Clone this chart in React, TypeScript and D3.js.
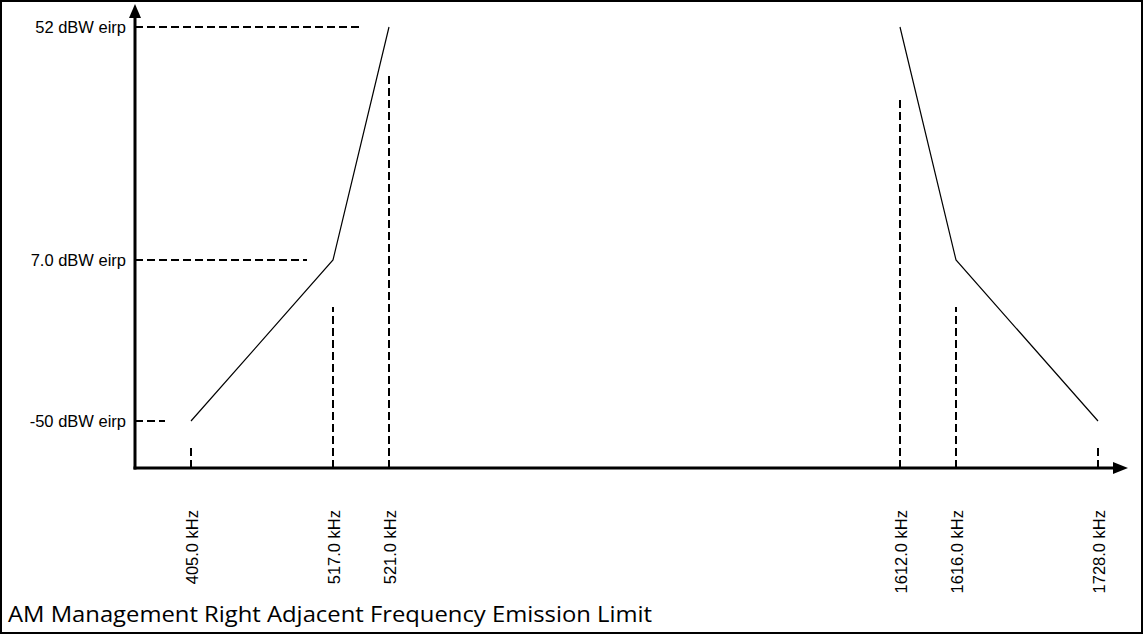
import React, { useRef, useEffect } from 'react';
import * as d3 from 'd3';

// frequencies marked on the horizontal axis (kHz)
const freqs = [405, 517, 521, 1612, 1616, 1728];
const freqLabels = ['405.0 kHz', '517.0 kHz', '521.0 kHz', '1612.0 kHz', '1616.0 kHz', '1728.0 kHz'];
// emission levels marked on the vertical axis (dBW eirp)
const levels = [-50, 7, 52];
const levelLabels = ['-50 dBW eirp', '7.0 dBW eirp', '52 dBW eirp'];
// mask edges: lower side and upper side
const lowerFreqs = [405, 517, 521];
const lowerLevels = [-50, 7, 52];
const upperFreqs = [1612, 1616, 1728];
const upperLevels = [52, 7, -50];
const title = 'AM Management Right Adjacent Frequency Emission Limit';

function App() {
  const svgRef = useRef<SVGSVGElement>(null);

  useEffect(() => {
    const svg = d3.select(svgRef.current);
    svg.selectAll('*').remove();
    const width = 1143;
    const height = 634;
    const originX = 135;
    const originY = 468;

    // schematic (not to scale) axes, so piecewise scales
    const x = d3.scaleLinear()
      .domain(freqs)
      .range([191, 333, 389, 900, 956, 1098]);
    const y = d3.scaleLinear()
      .domain(levels)
      .range([421, 260, 27]);

    // outer frame
    svg.append('rect')
      .attr('x', 1).attr('y', 1)
      .attr('width', width - 2).attr('height', height - 2)
      .attr('fill', 'white')
      .attr('stroke', 'black')
      .attr('stroke-width', 2);

    // horizontal guides from the axis
    svg.append('g')
      .selectAll('line')
      .data(levels)
      .join('line')
      .attr('x1', originX)
      .attr('x2', (d, i) => x(lowerFreqs[i]) - 26)
      .attr('y1', d => y(d))
      .attr('y2', d => y(d))
      .attr('stroke', 'black')
      .attr('stroke-width', 2)
      .attr('stroke-dasharray', '8,4');

    // vertical guides from the axis
    const gaps = [26, 47, 46, 70, 47, 26];
    const freqLevel = new Map<number, number>();
    lowerFreqs.forEach((f, i) => freqLevel.set(f, lowerLevels[i]));
    upperFreqs.forEach((f, i) => freqLevel.set(f, upperLevels[i]));
    svg.append('g')
      .selectAll('line')
      .data(freqs)
      .join('line')
      .attr('x1', d => x(d))
      .attr('x2', d => x(d))
      .attr('y1', originY)
      .attr('y2', (d, i) => y(freqLevel.get(d) as number) + gaps[i])
      .attr('stroke', 'black')
      .attr('stroke-width', 2)
      .attr('stroke-dasharray', '8,4');

    // mask edges
    const line = d3.line<[number, number]>()
      .x(d => x(d[0]))
      .y(d => y(d[1]));
    [
      lowerFreqs.map((f, i) => [f, lowerLevels[i]] as [number, number]),
      upperFreqs.map((f, i) => [f, upperLevels[i]] as [number, number]),
    ].forEach(pts => {
      svg.append('path')
        .datum(pts)
        .attr('fill', 'none')
        .attr('stroke', 'black')
        .attr('stroke-width', 1.2)
        .attr('d', line);
    });

    // axes with arrowheads
    svg.append('line')
      .attr('x1', originX).attr('x2', originX)
      .attr('y1', originY + 1.5).attr('y2', 16)
      .attr('stroke', 'black').attr('stroke-width', 3);
    svg.append('path')
      .attr('d', `M${originX},4 L${originX - 6},18 L${originX + 6},18 Z`)
      .attr('fill', 'black');
    svg.append('line')
      .attr('x1', originX - 1.5).attr('x2', 1114)
      .attr('y1', originY).attr('y2', originY)
      .attr('stroke', 'black').attr('stroke-width', 3);
    svg.append('path')
      .attr('d', `M1128,${originY} L1113,${originY - 6} L1113,${originY + 6} Z`)
      .attr('fill', 'black');

    // level labels
    svg.append('g')
      .selectAll('text')
      .data(levels)
      .join('text')
      .attr('x', originX - 9)
      .attr('y', d => y(d) + 6)
      .attr('text-anchor', 'end')
      .attr('font-family', 'Liberation Sans, Arial, sans-serif')
      .attr('font-size', 16.5)
      .text((d, i) => levelLabels[i]);

    // frequency labels
    svg.append('g')
      .selectAll('text')
      .data(freqs)
      .join('text')
      .attr('transform', d => `translate(${x(d) + 7},510) rotate(-90)`)
      .attr('text-anchor', 'end')
      .attr('font-family', 'Liberation Sans, Arial, sans-serif')
      .attr('font-size', 16.5)
      .text((d, i) => freqLabels[i]);

    // title
    svg.append('text')
      .attr('x', 8)
      .attr('y', 622)
      .attr('font-family', 'Open Sans, sans-serif')
      .attr('font-size', 21)
      .attr('textLength', 644)
      .attr('lengthAdjust', 'spacingAndGlyphs')
      .text(title);
  }, []);

  return (
    <div style={{ position: 'absolute', left: 0, top: 0 }}>
      <svg ref={svgRef} width={1143} height={634} style={{ display: 'block' }} />
    </div>
  );
}

export default App;
